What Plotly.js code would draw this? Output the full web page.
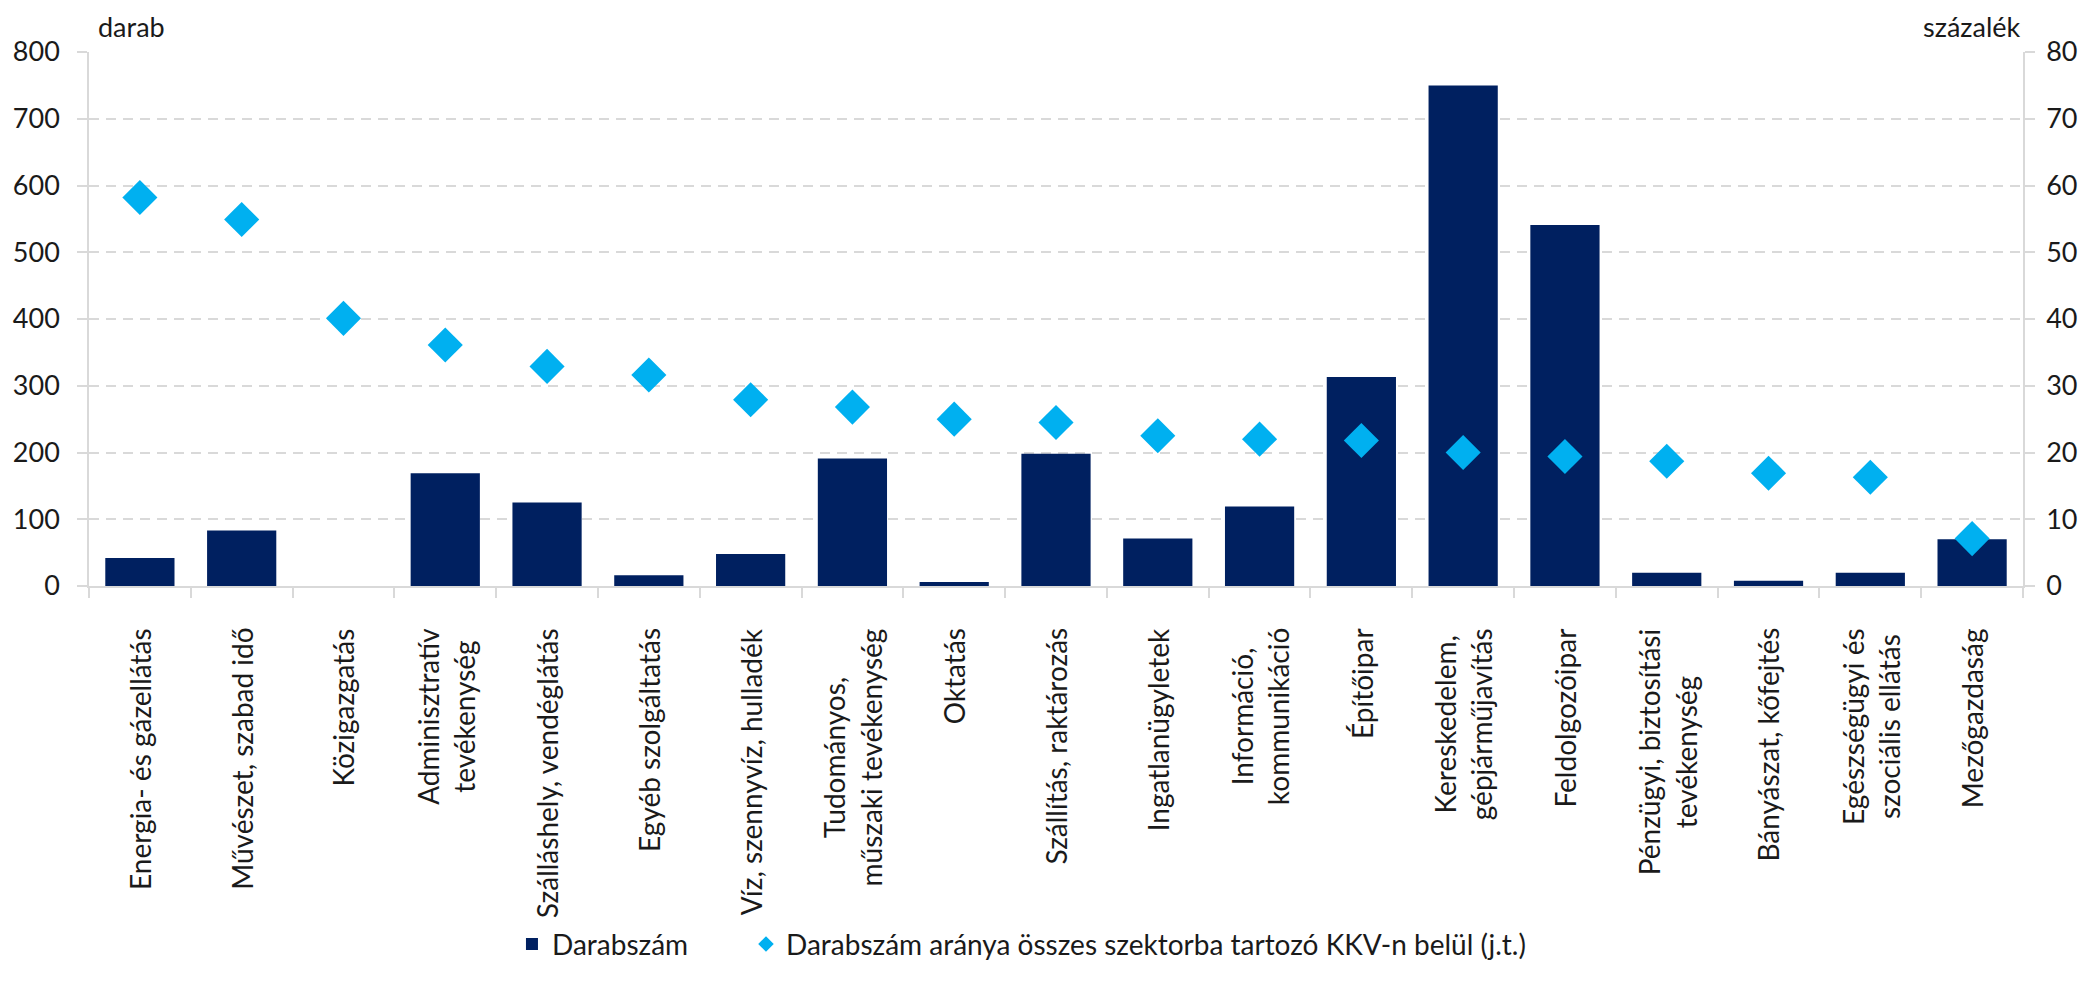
<!DOCTYPE html>
<html>
<head>
<meta charset="utf-8">
<script src="https://cdn.plot.ly/plotly-3.0.1.min.js"></script>
<style>html,body{margin:0;padding:0;background:#fff;}#chart{width:2088px;height:981px;}</style>
</head>
<body>
<div id="chart"></div>
<script>
const categories = [
  "Energia- és gázellátás",
  "Művészet, szabad idő",
  "Közigazgatás",
  "Adminisztratív<br>tevékenység",
  "Szálláshely, vendéglátás",
  "Egyéb szolgáltatás",
  "Víz, szennyvíz, hulladék",
  "Tudományos,<br>műszaki tevékenység",
  "Oktatás",
  "Szállítás, raktározás",
  "Ingatlanügyletek",
  "Információ,<br>kommunikáció",
  "Építőipar",
  "Kereskedelem,<br>gépjárműjavítás",
  "Feldolgozóipar",
  "Pénzügyi, biztosítási<br>tevékenység",
  "Bányászat, kőfejtés",
  "Egészségügyi és<br>szociális ellátás",
  "Mezőgazdaság"
];
const darabszam = [42, 83, 0, 169, 125, 16, 48, 191, 6, 198, 71, 119, 313, 750, 541, 20, 8, 20, 70];
const arany = [58.2, 54.9, 40.1, 36.1, 32.9, 31.6, 27.9, 26.8, 25.0, 24.5, 22.5, 22.0, 21.8, 20.0, 19.4, 18.7, 16.9, 16.3, 7.1];
const seriesNames = ["Darabszám", "Darabszám aránya összes szektorba tartozó KKV-n belül (j.t.)"];
const leftTitle = "darab";
const rightTitle = "százalék";

const FONT = "Lato, 'Open Sans', sans-serif";
const TXT = "#1a1a1a";
const GRID = "#D9D9D9";

const traces = [
  {
    type: "bar", name: seriesNames[0], x: categories, y: darabszam,
    marker: {color: "#002060"}, yaxis: "y", legend: "legend"
  },
  {
    type: "scatter", mode: "markers", name: seriesNames[1], x: categories, y: arany,
    marker: {color: "#00B0F0", symbol: "diamond", size: 27}, yaxis: "y2", legend: "legend2"
  }
];

const legendCommon = {
  orientation: "h", xanchor: "left", y: -0.671, yanchor: "middle",
  font: {family: FONT, size: 28, color: TXT}, itemsizing: "constant",
  bgcolor: "rgba(0,0,0,0)"
};

// category labels placed at the category positions of the x axis (rotated, lines centred)
const categoryLabels = categories.map(c => ({
  text: c, xref: "x", yref: "paper", x: c, y: -0.0788, xanchor: "center", yanchor: "top",
  textangle: -90, align: "center", showarrow: false, borderpad: 0, borderwidth: 0,
  font: {family: FONT, size: 28, color: TXT}
}));

const layout = {
  width: 2088, height: 981,
  margin: {l: 89, r: 65, t: 52, b: 369},
  paper_bgcolor: "#fff", plot_bgcolor: "#fff",
  font: {family: FONT, size: 27, color: TXT},
  bargap: 0.32,
  showlegend: true,
  legend: Object.assign({}, legendCommon, {x: 0.2187}),
  legend2: Object.assign({}, legendCommon, {x: 0.3397}),
  xaxis: {
    type: "category", range: [-0.5, categories.length - 0.5], autorange: false,
    tickson: "boundaries", ticks: "outside", showticklabels: false,
    ticklen: 10, tickcolor: GRID, tickwidth: 1.5,
    showline: true, linecolor: GRID, linewidth: 1.5, showgrid: false, automargin: false
  },
  yaxis: {
    range: [0, 800], dtick: 100, tick0: 0, ticks: "outside", ticklen: 10, tickcolor: GRID, tickwidth: 1.5,
    showline: true, linecolor: GRID, linewidth: 1.5,
    showgrid: true, gridcolor: GRID, gridwidth: 2, griddash: "10px,7px",
    zeroline: false, ticklabelstandoff: 12,
    tickfont: {family: FONT, size: 27, color: TXT}, automargin: false
  },
  yaxis2: {
    range: [0, 80], dtick: 10, tick0: 0, overlaying: "y", side: "right",
    ticks: "outside", ticklen: 10, tickcolor: GRID, tickwidth: 1.5,
    showline: true, linecolor: GRID, linewidth: 1.5, showgrid: false, zeroline: false,
    ticklabelstandoff: 6,
    tickfont: {family: FONT, size: 27, color: TXT}, automargin: false
  },
  annotations: [
    {text: leftTitle, xref: "paper", yref: "paper", x: 0.0038, y: 1.048, xanchor: "left", yanchor: "middle",
     showarrow: false, font: {family: FONT, size: 27, color: TXT}},
    {text: rightTitle, xref: "paper", yref: "paper", x: 1.0, y: 1.048, xanchor: "right", yanchor: "middle",
     showarrow: false, font: {family: FONT, size: 27, color: TXT}}
  ].concat(categoryLabels)
};

Plotly.newPlot("chart", traces, layout, {displayModeBar: false, responsive: false});
</script>
</body>
</html>
